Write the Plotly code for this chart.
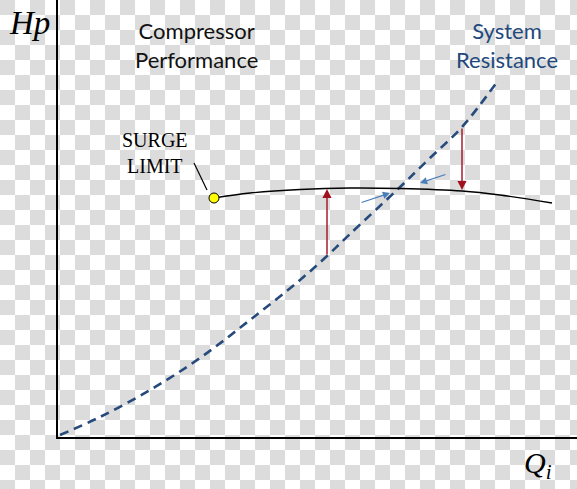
import plotly.graph_objects as go
import zlib, struct, base64

# ---- data (units: x = Qi axis units, y = Hp axis units) ----
resist_q = [2, 42, 92, 142, 192, 242, 269, 292, 340, 372, 404, 439]
resist_hp = [2, 20, 47, 79, 117, 157, 181, 203, 248, 279, 310, 355]

comp_q = [156, 192, 242, 292, 342, 404, 442, 494]
comp_hp = [239, 244, 247.5, 249, 248.5, 246, 242, 234]

surge_q = [156]
surge_hp = [239]
surge_leader_q = [136, 149]
surge_leader_hp = [274, 247]

# arrows: (tail_q, tail_hp, head_q, head_hp)
red_arrows = [(269, 181, 269, 248), (404, 310, 404, 247)]
blue_arrows = [(302, 234, 332, 244), (389, 263, 362, 254)]

W, H = 577, 489
ML, MR, MT, MB = 58, 0, 0, 52
XMAX, YMAX = W - ML - MR, H - MT - MB


def checker_png(w, h, size, gray):
    raw = bytearray()
    for y in range(h):
        raw.append(0)
        ry = y // size
        for x in range(w):
            v = gray if ((x // size + ry) % 2 == 0) else 255
            raw += bytes((v, v, v))
    def chunk(tag, data):
        return struct.pack('>I', len(data)) + tag + data + struct.pack('>I', zlib.crc32(tag + data) & 0xffffffff)
    png = b'\x89PNG\r\n\x1a\n'
    png += chunk(b'IHDR', struct.pack('>IIBBBBB', w, h, 8, 2, 0, 0, 0))
    png += chunk(b'IDAT', zlib.compress(bytes(raw), 9))
    png += chunk(b'IEND', b'')
    return 'data:image/png;base64,' + base64.b64encode(png).decode()


fig = go.Figure()

fig.add_trace(go.Scatter(x=resist_q, y=resist_hp, mode='lines',
                         line=dict(color='#264a7c', width=2.6, dash='9px,6px', shape='spline'),
                         hoverinfo='skip', showlegend=False))
fig.add_trace(go.Scatter(x=comp_q, y=comp_hp, mode='lines',
                         line=dict(color='black', width=1.4, shape='spline'),
                         hoverinfo='skip', showlegend=False))
fig.add_trace(go.Scatter(x=surge_leader_q, y=surge_leader_hp, mode='lines',
                         line=dict(color='black', width=1.2),
                         hoverinfo='skip', showlegend=False))
fig.add_trace(go.Scatter(x=surge_q, y=surge_hp, mode='markers',
                         marker=dict(color='#ffff00', size=10, line=dict(color='black', width=1)),
                         hoverinfo='skip', showlegend=False))

for tq, th, hq, hh in red_arrows:
    fig.add_annotation(x=hq, y=hh, ax=tq, ay=th, xref='x', yref='y', axref='x', ayref='y',
                       text='', showarrow=True, arrowhead=2, arrowsize=1.3, arrowwidth=1.4,
                       arrowcolor='#a0101e')
for tq, th, hq, hh in blue_arrows:
    fig.add_annotation(x=hq, y=hh, ax=tq, ay=th, xref='x', yref='y', axref='x', ayref='y',
                       text='', showarrow=True, arrowhead=2, arrowsize=1.2, arrowwidth=1.2,
                       arrowcolor='#4a7ebb')

labels = [
    ('Compressor<br>Performance', 138, 392, 'Lato', 22, '#111111'),
    ('System<br>Resistance', 449, 392, 'Lato', 22, '#1f497d'),
    ('SURGE<br>LIMIT', 97, 284, 'Liberation Serif', 20, 'black'),
    ('<i>Hp</i>', -29, 414, 'Liberation Serif', 33, 'black'),
    ('<i>Q<sub>i</sub></i>', 480, -28, 'Liberation Serif', 30, 'black'),
]
for txt, lx, ly, fam, sz, col in labels:
    fig.add_annotation(x=lx / XMAX, y=ly / YMAX, xref='paper', yref='paper', text=txt,
                       xanchor='center', yanchor='middle', showarrow=False,
                       font=dict(family=fam, size=sz, color=col))

fig.add_layout_image(dict(source=checker_png(W, H, 15, 220), xref='paper', yref='paper',
                          x=-ML / XMAX, y=1 + MT / YMAX, sizex=W / XMAX, sizey=H / YMAX,
                          xanchor='left', yanchor='top', sizing='stretch', layer='below'))

fig.update_layout(width=W, height=H, margin=dict(l=ML, r=MR, t=MT, b=MB),
                  paper_bgcolor='white', plot_bgcolor='rgba(0,0,0,0)')
fig.update_xaxes(range=[0, XMAX], showline=True, linecolor='black', linewidth=1.5,
                 showgrid=False, zeroline=False, showticklabels=False, ticks='')
fig.update_yaxes(range=[0, YMAX], showline=True, linecolor='black', linewidth=1.5,
                 showgrid=False, zeroline=False, showticklabels=False, ticks='')

fig.write_html('out.html', config={'displayModeBar': False},
               post_script="document.body.style.margin='0';document.body.style.overflow='hidden';")
